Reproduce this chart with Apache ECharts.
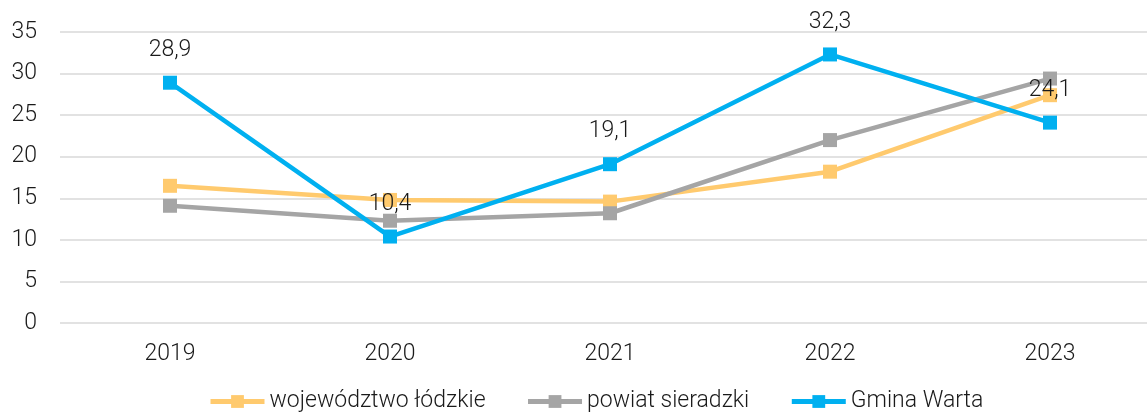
<!DOCTYPE html>
<html>
<head>
<meta charset="utf-8">
<script src="https://cdn.jsdelivr.net/npm/echarts@6/dist/echarts.min.js"></script>
<style>
  html, body { margin: 0; padding: 0; background: #fff; }
  #chart { width: 1147px; height: 417px; }
</style>
</head>
<body>
<div id="chart"></div>
<script>
const years = ['2019', '2020', '2021', '2022', '2023'];
const wojewodztwo = [16.5, 14.8, 14.6, 18.2, 27.4];
const powiat = [14.1, 12.3, 13.2, 22.0, 29.4];
const gmina = [28.9, 10.4, 19.1, 32.3, 24.1];
const seriesNames = ['województwo łódzkie', 'powiat sieradzki', 'Gmina Warta'];
const colors = ['#FFCA6E', '#A5A5A5', '#00B0F0'];

const font = 'Roboto';
const textColor = '#1a1a1a';
const fmt = v => String(v).replace('.', ',');

function lineSeries(name, data, color, withLabels) {
  return {
    name: name,
    type: 'line',
    data: data,
    symbol: 'rect',
    symbolSize: 14,
    lineStyle: { width: 4.5, color: color },
    itemStyle: { color: color },
    label: {
      show: withLabels,
      position: 'top',
      distance: 14,
      fontFamily: font,
      fontWeight: 300,
      fontSize: 23,
      color: textColor,
      formatter: p => fmt(p.value)
    },
    emphasis: { disabled: true },
    z: withLabels ? 3 : 2
  };
}

const chart = echarts.init(document.getElementById('chart'));
chart.setOption({
  animation: false,
  color: colors,
  // plot area runs slightly past the right edge of the canvas
  grid: { left: 60, width: 1100, top: 32, bottom: 94, containLabel: false, outerBoundsMode: 'none' },
  legend: {
    bottom: -1,
    left: 203,
    itemWidth: 54,
    itemHeight: 16,
    itemGap: 40,
    lineStyle: { width: 5 },
    textStyle: { fontFamily: font, fontWeight: 300, fontSize: 23, color: textColor },
    data: seriesNames
  },
  xAxis: {
    type: 'category',
    data: years,
    boundaryGap: true,
    axisLine: { show: false },
    axisTick: { show: false },
    axisLabel: { fontFamily: font, fontWeight: 300, fontSize: 23, color: textColor, margin: 20 }
  },
  yAxis: {
    type: 'value',
    min: 0,
    max: 35,
    interval: 5,
    axisLine: { show: false },
    axisTick: { show: false },
    axisLabel: { fontFamily: font, fontWeight: 300, fontSize: 23, color: textColor, margin: 23 },
    splitLine: { lineStyle: { color: '#D9D9D9', width: 1.5 } }
  },
  series: [
    lineSeries(seriesNames[0], wojewodztwo, colors[0], false),
    lineSeries(seriesNames[1], powiat, colors[1], false),
    lineSeries(seriesNames[2], gmina, colors[2], true)
  ]
});
</script>
</body>
</html>
